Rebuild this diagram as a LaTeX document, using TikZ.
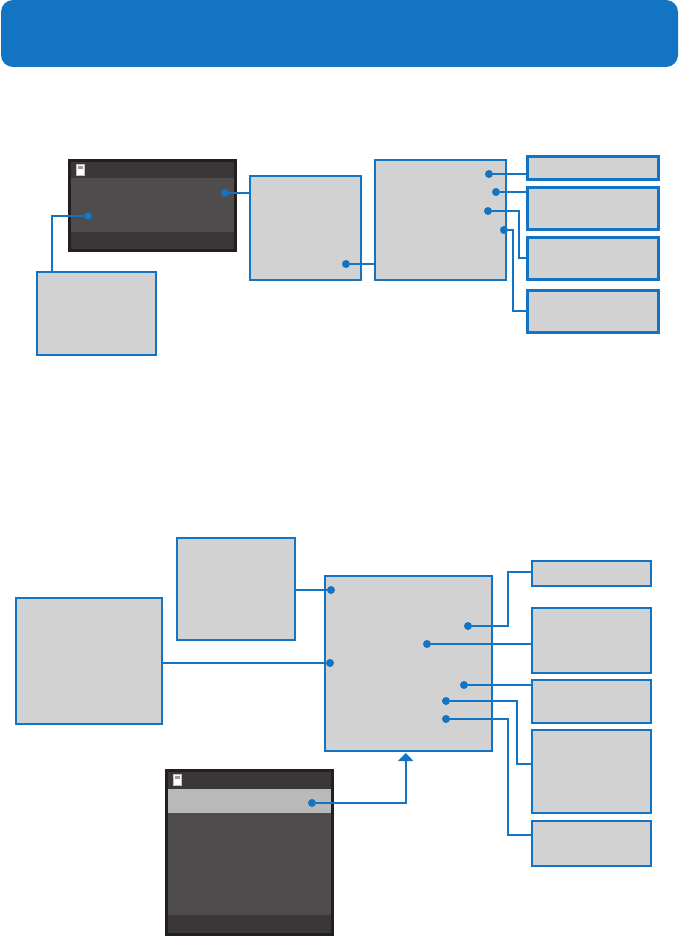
\documentclass[tikz,border=0pt]{standalone}
\usepackage{xcolor}
\usetikzlibrary{arrows.meta, positioning, calc}
\definecolor{wireblue}{HTML}{1474C4}
\definecolor{panelgray}{HTML}{D2D2D2}
\definecolor{screenedge}{HTML}{231F20}
\definecolor{screenbar}{HTML}{3B3637}
\definecolor{screenbody}{HTML}{4E4C4D}
\definecolor{screenlit}{HTML}{B9B9B9}
\begin{document}
\begin{tikzpicture}[x=1pt, y=-1pt,
		panel/.style={draw=wireblue, fill=panelgray, line width=2pt, inner sep=0pt, outer sep=0pt},
		notepanel/.style={panel, line width=2.6pt, minimum width=131.4pt},
		pin/.style={circle, fill=wireblue, inner sep=0pt, minimum size=8pt},
		wire/.style={draw=wireblue, line width=2pt}]
			\useasboundingbox (0,0) rectangle (678,936);
			\node[fill=wireblue, rounded corners=12pt, minimum width=677pt, minimum height=67pt, inner sep=0pt] (titlebar) at (339.5,33.5) {};

			\fill[screenedge] (68,159) rectangle (237,252);
			\fill[screenbar] (71,162) rectangle (234,249);
			\fill[screenbody] (71,178) rectangle (234,232);
			\fill[white, draw=gray!50, line width=0.8pt] (76.4,164.4) rectangle (84.6,175.6);
			\fill[gray!80] (78,166) rectangle (83,169);

			\node[panel, minimum width=119pt, minimum height=83pt] (tipbox) at (96.5,313.5) {};
			\node[panel, minimum width=111pt, minimum height=103.5pt] (menubox) at (305.5,228.25) {};
			\node[panel, minimum width=131pt, minimum height=120pt] (listbox) at (440.5,220) {};
			\node[notepanel, minimum height=23.4pt] (notea) at (593,168) {};
			\node[notepanel, minimum height=42.4pt] (noteb) at (593,208.5) {};
			\node[notepanel, minimum height=42.4pt] (notec) at (593,258.5) {};
			\node[notepanel, minimum height=42.4pt] (noted) at (593,311.5) {};

			\node[pin] (pinbody) at (88,216) {};
			\node[pin] (pinedge) at (225,193) {};
			\node[pin] (pinmenu) at (346,264) {};
			\node[pin] (pinlista) at (489,174) {};
			\node[pin] (pinlistb) at (496,192) {};
			\node[pin] (pinlistc) at (488,211) {};
			\node[pin] (pinlistd) at (504,230) {};
			\coordinate (elbowtip) at (52,272);
			\coordinate (elbowc) at (519,258);
			\coordinate (elbowd) at (513,311);

			\draw[wire] (elbowtip) |- (pinbody);
			\draw[wire] (pinedge) -- (menubox.west |- pinedge);
			\draw[wire] (pinmenu) -- (listbox.west |- pinmenu);
			\draw[wire] (pinlista) -- (notea.west |- pinlista);
			\draw[wire, line width=2.6pt] (pinlistb) -- (noteb.west |- pinlistb);
			\draw[wire] (pinlistc) -| (elbowc) -- (notec.west |- elbowc);
			\draw[wire] (pinlistd) -| (elbowd) -- (noted.west |- elbowd);

			\fill[screenedge] (165,769) rectangle (334,936);
			\fill[screenbar] (168,772) rectangle (331,933);
			\fill[screenlit] (168,789) rectangle (331,813);
			\fill[screenbody] (168,813) rectangle (331,915);
			\fill[white, draw=gray!50, line width=0.8pt] (173.4,774.4) rectangle (181.6,785.6);
			\fill[gray!80] (175,776) rectangle (180,779);

			\node[panel, minimum width=146pt, minimum height=126pt] (introbox) at (89,661) {};
			\node[panel, minimum width=118pt, minimum height=102pt] (headbox) at (236,589) {};
			\node[panel, minimum width=167pt, minimum height=175pt] (mainbox) at (408.5,663.5) {};
			\node[panel, minimum width=119pt, minimum height=25pt] (sidea) at (591.5,573.5) {};
			\node[panel, minimum width=119pt, minimum height=65pt] (sideb) at (591.5,640.5) {};
			\node[panel, minimum width=119pt, minimum height=43pt] (sidec) at (591.5,701.5) {};
			\node[panel, minimum width=119pt, minimum height=83pt] (sided) at (591.5,771.5) {};
			\node[panel, minimum width=119pt, minimum height=45pt] (sidee) at (591.5,843.5) {};

			\node[pin] (pinhead) at (331,590) {};
			\node[pin] (pinintro) at (330,663) {};
			\node[pin] (pinmaina) at (468,626) {};
			\node[pin] (pinmainb) at (427,644) {};
			\node[pin] (pinmainc) at (464,685) {};
			\node[pin] (pinmaind) at (446,701) {};
			\node[pin] (pinmaine) at (446,719) {};
			\node[pin] (pinlit) at (312,803) {};
			\coordinate (elbowa) at (508,572);
			\coordinate (elbowdd) at (517,764);
			\coordinate (elbowe) at (508,835);
			\coordinate (elbowup) at (405.7,753);

			\draw[wire] (headbox.east |- pinhead) -- (pinhead);
			\draw[wire] (introbox.east |- pinintro) -- (pinintro);
			\draw[wire] (pinmaina) -| (elbowa) -- (sidea.west |- elbowa);
			\draw[wire] (pinmainb) -- (sideb.west |- pinmainb);
			\draw[wire] (pinmainc) -- (sidec.west |- pinmainc);
			\draw[wire] (pinmaind) -| (elbowdd) -- (sided.west |- elbowdd);
			\draw[wire] (pinmaine) -| (elbowe) -- (sidee.west |- elbowe);
			\draw[wire, -{Triangle[width=15pt,length=8pt]}] (pinlit) -| (elbowup);
		\end{tikzpicture}
\end{document}
